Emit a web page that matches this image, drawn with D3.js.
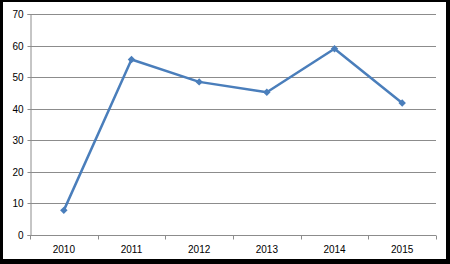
<!DOCTYPE html>
<html>
<head>
<meta charset="utf-8">
<script src="https://cdn.jsdelivr.net/npm/d3@7"></script>
<style>
  html, body { margin: 0; padding: 0; background: #000; }
  svg { display: block; }
</style>
</head>
<body>
<div id="chart"></div>
<script>
const years = ['2010', '2011', '2012', '2013', '2014', '2015'];
const values = [7.8, 55.6, 48.5, 45.2, 59.0, 41.8];
const yTicks = [0, 10, 20, 30, 40, 50, 60, 70];

const width = 450;
const height = 264;
const margin = { top: 14, right: 14, bottom: 29, left: 30 };

const svg = d3.select('#chart').append('svg')
  .attr('width', width)
  .attr('height', height);

// frame
svg.append('rect')
  .attr('width', width)
  .attr('height', height)
  .attr('fill', '#000');
svg.append('rect')
  .attr('x', 3)
  .attr('y', 2)
  .attr('width', 443)
  .attr('height', 257)
  .attr('fill', '#fff');

const x = d3.scaleBand()
  .domain(years)
  .range([margin.left, width - margin.right]);

const y = d3.scaleLinear()
  .domain([0, 70])
  .range([height - margin.bottom, margin.top]);

// gridlines
svg.append('g')
  .selectAll('line')
  .data(yTicks)
  .enter().append('line')
  .attr('x1', margin.left)
  .attr('x2', width - margin.right)
  .attr('y1', d => Math.round(y(d)) + 0.5)
  .attr('y2', d => Math.round(y(d)) + 0.5)
  .attr('stroke', '#8c8c8c')
  .attr('stroke-width', 1);

// y axis
const yAxis = svg.append('g')
  .attr('transform', `translate(${margin.left + 0.5},0)`)
  .call(d3.axisLeft(y).tickValues(yTicks).tickSize(3).tickPadding(4));
yAxis.select('.domain').attr('stroke', '#8c8c8c');
yAxis.selectAll('.tick line').attr('stroke', '#8c8c8c');
yAxis.selectAll('.tick').attr('transform', d => `translate(0,${Math.round(y(d)) + 0.5})`);
yAxis.selectAll('text')
  .attr('fill', '#000')
  .style('font-family', 'Liberation Sans, Arial, sans-serif')
  .style('font-size', '10px');

// x axis with ticks between categories
const xg = svg.append('g')
  .attr('transform', `translate(0,${Math.round(y(0)) + 0.5})`);
xg.append('line')
  .attr('x1', margin.left)
  .attr('x2', width - margin.right)
  .attr('stroke', '#8c8c8c');
const boundaries = years.map(d => x(d)).concat([width - margin.right]);
xg.selectAll('.xtick')
  .data(boundaries)
  .enter().append('line')
  .attr('class', 'xtick')
  .attr('x1', d => Math.round(d) + 0.5)
  .attr('x2', d => Math.round(d) + 0.5)
  .attr('y1', 0)
  .attr('y2', 4)
  .attr('stroke', '#8c8c8c');
xg.selectAll('.xlabel')
  .data(years)
  .enter().append('text')
  .attr('class', 'xlabel')
  .attr('x', d => x(d) + x.bandwidth() / 2)
  .attr('y', 17)
  .attr('text-anchor', 'middle')
  .style('font-family', 'Liberation Sans, Arial, sans-serif')
  .style('font-size', '10px')
  .text(d => d);

// line
const line = d3.line()
  .x((d, i) => x(years[i]) + x.bandwidth() / 2)
  .y(d => y(d));

svg.append('path')
  .datum(values)
  .attr('d', line)
  .attr('fill', 'none')
  .attr('stroke', '#4a7ebb')
  .attr('stroke-width', 2.5)
  .attr('stroke-linejoin', 'round');

// diamond markers (rotated squares)
svg.append('g')
  .selectAll('path')
  .data(values)
  .enter().append('path')
  .attr('d', d3.symbol().type(d3.symbolSquare).size(28))
  .attr('transform', (d, i) => `translate(${x(years[i]) + x.bandwidth() / 2},${y(d)}) rotate(45)`)
  .attr('fill', '#4a7ebb');
</script>
</body>
</html>
